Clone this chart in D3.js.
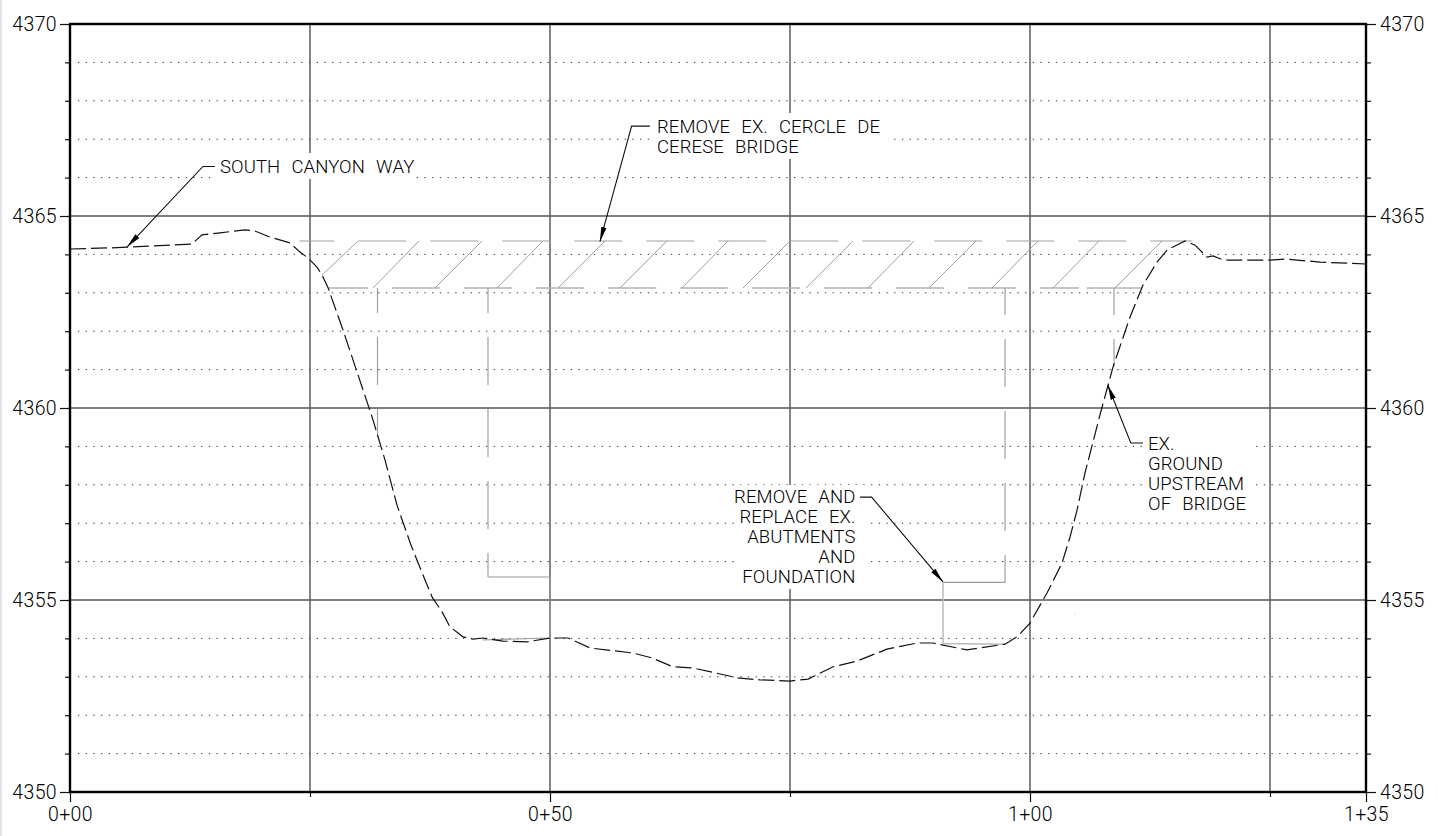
<!DOCTYPE html>
<html>
<head>
<meta charset="utf-8">
<script src="https://cdn.jsdelivr.net/npm/d3@7"></script>
<style>
  html, body { margin: 0; padding: 0; background: #fff; }
  svg { display: block; }
  text { font-family: Roboto, sans-serif; font-weight: 300; fill: #000; }
  .tick text { font-size: 19.5px; letter-spacing: 0.35px; }
  .note { font-size: 18.5px; letter-spacing: 0.1px; word-spacing: 6.5px; }
</style>
</head>
<body>
<div id="chart"></div>
<script>
// existing ground, station (ft) and elevation (ft)
const groundStation = [0, 4.17, 5.94, 12.71, 13.75, 15.63, 18.23, 19.27, 20.83, 22.92, 23.96, 24.79, 25.73, 26.25, 26.88, 28.44, 30.94, 31.56, 32.81, 34.06, 35.52, 36.77, 37.71, 38.75, 39.58, 40.42, 40.94, 41.98, 43.02, 45.1, 47.6, 50, 51.88, 54.17, 58.65, 60.63, 62.81, 64.9, 69.58, 71.88, 75, 76.88, 79.48, 81.98, 85.1, 88.23, 89.9, 93.44, 97.4, 98.75, 100, 101.77, 103.33, 104.17, 104.9, 105.73, 107.29, 108.65, 110.42, 111.77, 113.23, 114.27, 116.15, 117.19, 118.44, 119.06, 120.21, 125, 126.56, 130.21, 135];
const groundElevation = [4364.14, 4364.17, 4364.19, 4364.27, 4364.51, 4364.56, 4364.64, 4364.61, 4364.45, 4364.3, 4364.06, 4363.91, 4363.67, 4363.46, 4363.13, 4362.03, 4360.16, 4359.69, 4358.65, 4357.47, 4356.43, 4355.65, 4355.08, 4354.69, 4354.3, 4354.14, 4354.04, 4353.98, 4354.01, 4353.93, 4353.91, 4354.01, 4354.01, 4353.75, 4353.62, 4353.49, 4353.26, 4353.23, 4352.97, 4352.92, 4352.89, 4352.94, 4353.26, 4353.41, 4353.72, 4353.88, 4353.88, 4353.7, 4353.85, 4354.06, 4354.4, 4355.18, 4355.96, 4356.64, 4357.34, 4358.31, 4359.82, 4361.07, 4362.37, 4363.2, 4363.8, 4364.11, 4364.35, 4364.24, 4363.93, 4363.96, 4363.85, 4363.85, 4363.88, 4363.8, 4363.75];

// bridge deck and its diagonal hatching
const deckTopElevation = 4364.35;
const deckBottomElevation = 4363.125;
const diagonalFootStation = [26.25, 31.56, 38.02, 44.48, 50.83, 57.29, 63.75, 70.1, 76.67, 83.13, 89.48, 96.04, 102.4, 108.85];
const diagonalFootElevation = [4363.46, 4363.125, 4363.125, 4363.125, 4363.125, 4363.125, 4363.125, 4363.125, 4363.125, 4363.125, 4363.125, 4363.125, 4363.125, 4363.125];
const diagonalHeadStation = [30, 36.35, 42.92, 49.27, 55.73, 62.19, 68.54, 75, 81.56, 87.92, 94.38, 100.83, 107.19, 113.75];

// abutments
const leftAbutmentFace = [[32.03, 4363.125], [32.03, 4359.3]];
const leftAbutmentBack = [[43.54, 4363.125], [43.54, 4355.6]];
const leftFooting = [[43.54, 4355.6], [50, 4355.6], [50, 4354.01], [43, 4353.96]];
const rightAbutmentFace = [[97.4, 4363.125], [97.4, 4355.46]];
const rightAbutmentBack = [[108.75, 4363.125], [108.75, 4361.07]];
const rightFooting = [[97.4, 4355.46], [90.94, 4355.46]];
const rightFootingDrop = [[90.94, 4355.46], [90.94, 4353.87], [97.4, 4353.85]];

// grid and tick values
const majorStations = [25, 50, 75, 100, 125];
const labelledStations = [0, 50, 100, 135];
const minorStations = [25, 75, 125];
const majorElevations = [4355, 4360, 4365];
const labelledElevations = [4350, 4355, 4360, 4365, 4370];
const minorElevations = [4351, 4352, 4353, 4354, 4356, 4357, 4358, 4359, 4361, 4362, 4363, 4364, 4366, 4367, 4368, 4369];
const stationLabels = ['0+00', '0+50', '1+00', '1+35'];

// leaders
const canyonLeader = [[15.1, 4366.29], [13.85, 4366.29], [5.94, 4364.19]];
const bridgeLeader = [[60.4, 4367.34], [58.5, 4367.34], [55.2, 4364.33]];
const groundLeader = [[111.77, 4359.09], [110.5, 4359.09], [108.1, 4360.6]];
const abutmentLeader = [[82.3, 4357.68], [83.5, 4357.68], [90.94, 4355.47]];

// note text
const canyonNote = ['SOUTH CANYON WAY'];
const bridgeNote = ['REMOVE EX. CERCLE DE', 'CERESE BRIDGE'];
const groundNote = ['EX.', 'GROUND', 'UPSTREAM', 'OF BRIDGE'];
const abutmentNote = ['REMOVE AND', 'REPLACE EX.', 'ABUTMENTS', 'AND', 'FOUNDATION'];

const width = 1438;
const height = 836;
const plot = { left: 70, right: 1366, top: 24, bottom: 792 };

const x = d3.scaleLinear().domain([0, 135]).range([plot.left, plot.right]);
const y = d3.scaleLinear().domain([4350, 4370]).range([plot.bottom, plot.top]);
const line = d3.line().x(d => x(d[0])).y(d => y(d[1]));

const svg = d3.select('#chart').append('svg')
  .attr('width', width)
  .attr('height', height)
  .attr('viewBox', `0 0 ${width} ${height}`);

svg.append('defs').append('marker')
  .attr('id', 'arrow')
  .attr('markerUnits', 'userSpaceOnUse')
  .attr('markerWidth', 16)
  .attr('markerHeight', 8)
  .attr('refX', 15)
  .attr('refY', 4)
  .attr('orient', 'auto')
  .append('path')
  .attr('d', 'M0,1.3L15,4L0,6.7z')
  .attr('fill', '#000');

// sheet edge
svg.append('rect')
  .attr('width', 2)
  .attr('height', height)
  .attr('fill', '#e4e4e4');

// dotted one foot lines
svg.append('g').selectAll('line')
  .data(minorElevations)
  .join('line')
  .attr('x1', x(0.83))
  .attr('x2', x(134.17))
  .attr('y1', d => y(d))
  .attr('y2', d => y(d))
  .attr('stroke', '#333')
  .attr('stroke-width', 1)
  .attr('stroke-dasharray', '1.3 6.4');

svg.append('g').selectAll('line')
  .data(majorStations)
  .join('line')
  .attr('x1', d => x(d))
  .attr('x2', d => x(d))
  .attr('y1', plot.top)
  .attr('y2', plot.bottom)
  .attr('stroke', '#444')
  .attr('stroke-width', 1.3);

svg.append('g').selectAll('line')
  .data(majorElevations)
  .join('line')
  .attr('x1', plot.left)
  .attr('x2', plot.right)
  .attr('y1', d => y(d))
  .attr('y2', d => y(d))
  .attr('stroke', '#555')
  .attr('stroke-width', 1.5);

// white boxes behind the notes knock out the grid
const masks = [
  [213, 153, 202, 26],
  [650, 113, 238, 46],
  [1143, 430, 111, 85],
  [737, 485, 128, 104]
];
svg.append('g').selectAll('rect')
  .data(masks)
  .join('rect')
  .attr('x', d => d[0])
  .attr('y', d => d[1])
  .attr('width', d => d[2])
  .attr('height', d => d[3])
  .attr('fill', '#fff');

// bridge
const bridge = svg.append('g').attr('fill', 'none');

bridge.append('path')
  .attr('d', line([[23.9, deckTopElevation], [116.9, deckTopElevation]]))
  .attr('stroke', '#a0a0a0')
  .attr('stroke-width', 1.1)
  .attr('stroke-dasharray', '48 24')
  .attr('stroke-dashoffset', 13);

bridge.append('path')
  .attr('d', line([[26.88, deckBottomElevation], [105.1, deckBottomElevation]]))
  .attr('stroke', '#b4b4b4')
  .attr('stroke-width', 1.6)
  .attr('stroke-dasharray', '48 24')
  .attr('stroke-dashoffset', 8);

bridge.append('path')
  .attr('d', line([[105.9, deckBottomElevation], [111.7, deckBottomElevation]]))
  .attr('stroke', '#b4b4b4')
  .attr('stroke-width', 1.6);

bridge.selectAll('.diagonal')
  .data(diagonalFootStation)
  .join('line')
  .attr('class', 'diagonal')
  .attr('x1', d => x(d))
  .attr('y1', (d, i) => y(diagonalFootElevation[i]))
  .attr('x2', (d, i) => x(diagonalHeadStation[i]))
  .attr('y2', y(deckTopElevation))
  .attr('stroke', '#a0a0a0')
  .attr('stroke-width', 1);

[
  [leftAbutmentFace, 23],
  [leftAbutmentBack, 23],
  [rightAbutmentFace, 21],
  [rightAbutmentBack, 21]
].forEach(([pts, offset]) => {
  bridge.append('path')
    .attr('d', line(pts))
    .attr('stroke', '#999')
    .attr('stroke-width', 1.1)
    .attr('stroke-dasharray', '48 24')
    .attr('stroke-dashoffset', offset);
});

bridge.append('path').attr('d', line(leftFooting)).attr('stroke', '#999').attr('stroke-width', 1.1);
bridge.append('path').attr('d', line(rightFooting)).attr('stroke', '#999').attr('stroke-width', 1.1);
bridge.append('path').attr('d', line(rightFootingDrop)).attr('stroke', '#bbb').attr('stroke-width', 1.5);

// stray speck on the drawing
svg.append('circle')
  .attr('cx', x(104.7))
  .attr('cy', y(4354.64))
  .attr('r', 0.6)
  .attr('fill', '#bbb');

// existing ground
svg.append('path')
  .attr('d', line(groundStation.map((s, i) => [s, groundElevation[i]])))
  .attr('fill', 'none')
  .attr('stroke', '#111')
  .attr('stroke-width', 1.2)
  .attr('stroke-dasharray', '16 5');

// leaders
svg.append('g').selectAll('path')
  .data([canyonLeader, bridgeLeader, groundLeader, abutmentLeader])
  .join('path')
  .attr('d', d => line(d))
  .attr('fill', 'none')
  .attr('stroke', '#111')
  .attr('stroke-width', 1.1)
  .attr('marker-end', 'url(#arrow)');

// notes
function addNote(lines, noteX, baseline, anchor) {
  svg.append('g').selectAll('text')
    .data(lines)
    .join('text')
    .attr('class', 'note')
    .attr('x', noteX)
    .attr('y', (d, i) => baseline + i * 20)
    .attr('text-anchor', anchor)
    .text(d => d);
}
addNote(canyonNote, 220, 173, 'start');
addNote(bridgeNote, 657, 132.5, 'start');
addNote(groundNote, 1148, 450, 'start');
addNote(abutmentNote, 855.5, 503, 'end');

// axes
function styleAxis(g) {
  g.select('.domain').remove();
  g.selectAll('.tick line').attr('stroke', '#111').attr('stroke-width', 1.2);
}

svg.append('g')
  .attr('transform', `translate(${plot.left},0)`)
  .call(d3.axisLeft(y).tickValues(minorElevations).tickSize(5).tickFormat(''))
  .call(styleAxis);
svg.append('g')
  .attr('transform', `translate(${plot.right},0)`)
  .call(d3.axisRight(y).tickValues(minorElevations).tickSize(5).tickFormat(''))
  .call(styleAxis);
svg.append('g')
  .attr('transform', `translate(0,${plot.bottom})`)
  .call(d3.axisBottom(x).tickValues(minorStations).tickSize(5).tickFormat(''))
  .call(styleAxis);

svg.append('g')
  .attr('transform', `translate(${plot.left},0)`)
  .call(d3.axisLeft(y).tickValues(labelledElevations).tickSize(10).tickPadding(3).tickFormat(d3.format('d')))
  .call(styleAxis);
svg.append('g')
  .attr('transform', `translate(${plot.right},0)`)
  .call(d3.axisRight(y).tickValues(labelledElevations).tickSize(10).tickPadding(4).tickFormat(d3.format('d')))
  .call(styleAxis);
svg.append('g')
  .attr('transform', `translate(0,${plot.bottom})`)
  .call(d3.axisBottom(x).tickValues(labelledStations).tickSize(10).tickPadding(5.5)
    .tickFormat((d, i) => stationLabels[i]))
  .call(styleAxis);

svg.selectAll('.tick text').attr('fill', '#000').attr('font-family', null).attr('font-size', null);

// heavy frame
svg.append('rect')
  .attr('x', plot.left)
  .attr('y', plot.top)
  .attr('width', plot.right - plot.left)
  .attr('height', plot.bottom - plot.top)
  .attr('fill', 'none')
  .attr('stroke', '#000')
  .attr('stroke-width', 2.4);
</script>
</body>
</html>
